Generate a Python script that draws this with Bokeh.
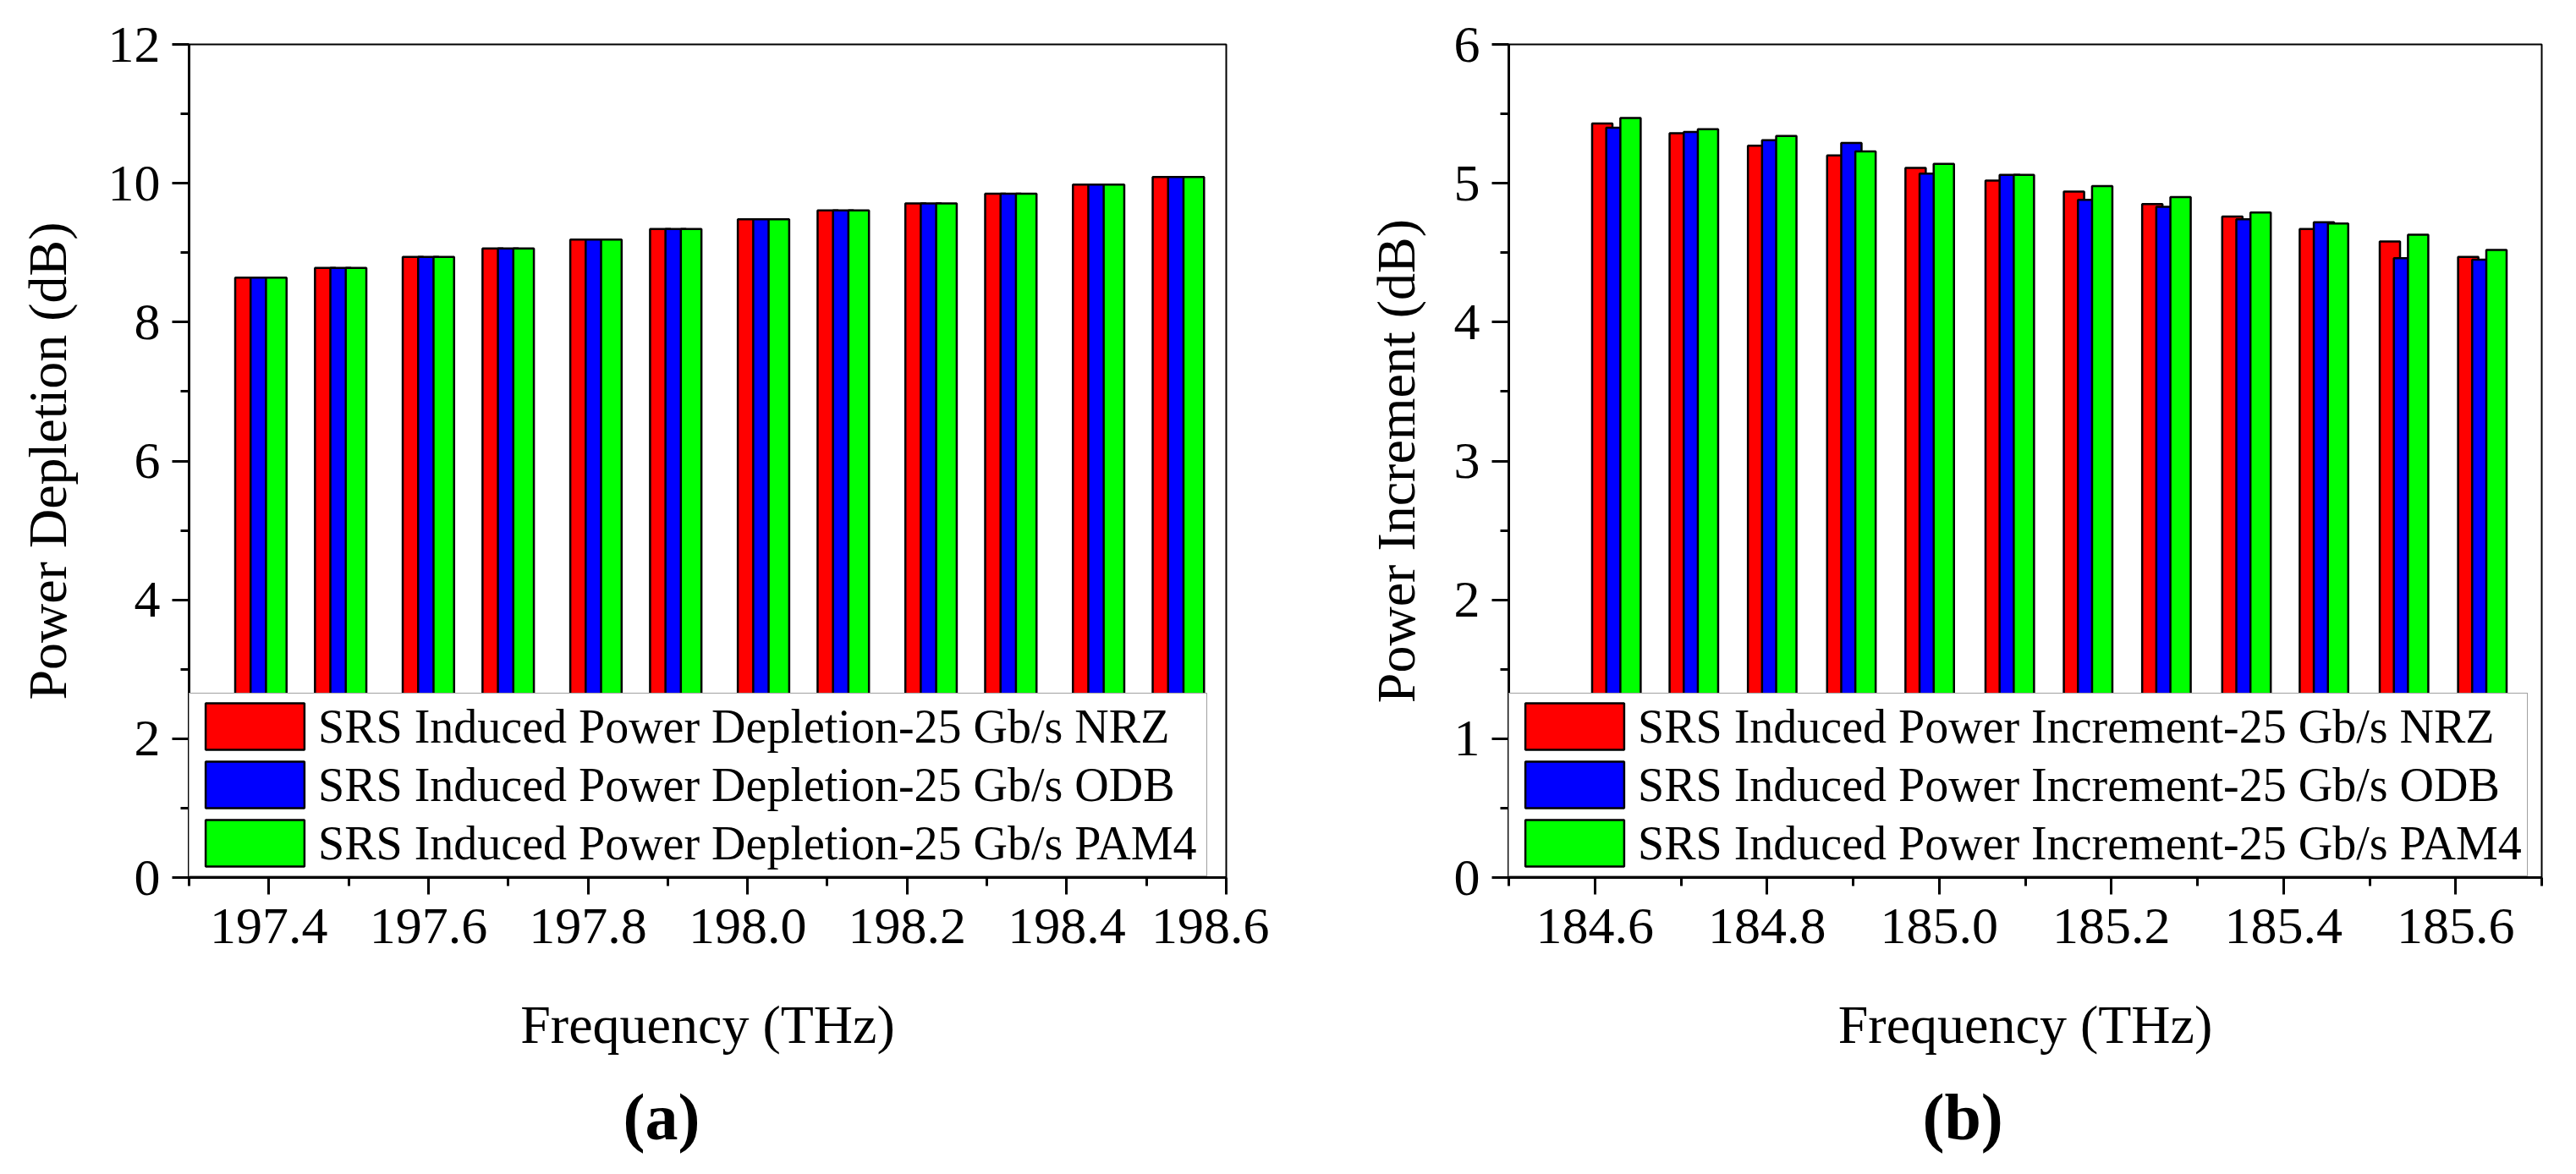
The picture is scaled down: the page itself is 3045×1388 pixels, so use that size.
from bokeh.plotting import figure
from bokeh.layouts import row, column
from bokeh.models import Range1d, FixedTicker, PrintfTickFormatter, ColumnDataSource, Title
from bokeh.transform import dodge
from bokeh.embed import file_html
from bokeh.resources import INLINE

FONT = "Liberation Serif"

# (a) SRS induced power depletion (dB) per channel frequency (THz)
freq_a = [197.39, 197.49, 197.60, 197.70, 197.81, 197.91, 198.02, 198.12, 198.23, 198.33, 198.44, 198.54]
nrz_a = [8.64, 8.78, 8.94, 9.06, 9.19, 9.34, 9.48, 9.61, 9.71, 9.85, 9.98, 10.09]
odb_a = [8.64, 8.78, 8.94, 9.06, 9.19, 9.34, 9.48, 9.61, 9.71, 9.85, 9.98, 10.09]
pam4_a = [8.64, 8.78, 8.94, 9.06, 9.19, 9.34, 9.48, 9.61, 9.71, 9.85, 9.98, 10.09]
labels_a = ["SRS Induced Power Depletion-25 Gb/s NRZ",
            "SRS Induced Power Depletion-25 Gb/s ODB",
            "SRS Induced Power Depletion-25 Gb/s PAM4"]
xticks_a = [197.4, 197.6, 197.8, 198.0, 198.2, 198.4, 198.6]
xminor_a = [197.3, 197.5, 197.7, 197.9, 198.1, 198.3, 198.5]
yticks_a = [0, 2, 4, 6, 8, 10, 12]
yminor_a = [1, 3, 5, 7, 9, 11]

# (b) SRS induced power increment (dB)
freq_b = [184.625, 184.715, 184.806, 184.898, 184.989, 185.082, 185.173, 185.264, 185.357, 185.447, 185.540, 185.631]
nrz_b = [5.43, 5.36, 5.27, 5.20, 5.11, 5.02, 4.94, 4.85, 4.76, 4.67, 4.58, 4.47]
odb_b = [5.40, 5.37, 5.31, 5.29, 5.07, 5.06, 4.88, 4.83, 4.74, 4.72, 4.46, 4.45]
pam4_b = [5.47, 5.39, 5.34, 5.23, 5.14, 5.06, 4.98, 4.90, 4.79, 4.71, 4.63, 4.52]
labels_b = ["SRS Induced Power Increment-25 Gb/s NRZ",
            "SRS Induced Power Increment-25 Gb/s ODB",
            "SRS Induced Power Increment-25 Gb/s PAM4"]
xticks_b = [184.6, 184.8, 185.0, 185.2, 185.4, 185.6]
xminor_b = [184.5, 184.7, 184.9, 185.1, 185.3, 185.5, 185.7]
yticks_b = [0, 1, 2, 3, 4, 5, 6]
yminor_b = [0.5, 1.5, 2.5, 3.5, 4.5, 5.5]

colors = ["#ff0000", "#0000ff", "#00ff00"]

MAIN_H = 1256
CAP_H = 114


def make_panel(freq, series, labels, xr, yr, xt, xm, yt, ym, ylabel,
               width, bl, br, bt, frame_h, bar_w, shift, ystand, lab_w):
    p = figure(width=width, height=MAIN_H, x_range=Range1d(*xr), y_range=Range1d(*yr),
               output_backend="svg", toolbar_location=None,
               min_border_left=bl, min_border_right=br, min_border_top=bt,
               min_border_bottom=MAIN_H - bt - frame_h)

    src = ColumnDataSource(dict(freq=freq, s0=series[0], s1=series[1], s2=series[2]))

    # bars overlap a little, drawn red -> blue -> green
    for i in range(3):
        p.vbar(x=dodge("freq", (i - 1) * shift), top="s%d" % i, bottom=0, width=bar_w, source=src,
               fill_color=colors[i], line_color="black", line_width=2.5, legend_label=labels[i])

    p.xaxis.ticker = FixedTicker(ticks=xt, minor_ticks=xm)
    p.xaxis.formatter = PrintfTickFormatter(format="%.1f")
    p.yaxis.ticker = FixedTicker(ticks=yt, minor_ticks=ym)

    p.xaxis.axis_label = "Frequency (THz)"
    p.yaxis.axis_label = ylabel
    for ax in p.axis:
        ax.axis_line_width = 3
        ax.axis_line_color = "black"
        ax.major_tick_line_width = 3
        ax.minor_tick_line_width = 3
        ax.major_tick_line_color = "black"
        ax.minor_tick_line_color = "black"
        ax.major_tick_in = 0
        ax.major_tick_out = 20
        ax.minor_tick_in = 0
        ax.minor_tick_out = 10
        ax.major_label_text_font = FONT
        ax.major_label_text_font_size = "62px"
        ax.major_label_text_color = "black"
        ax.axis_label_text_font = FONT
        ax.axis_label_text_font_size = "64px"
        ax.axis_label_text_font_style = "normal"
        ax.axis_label_text_color = "black"
    p.xaxis.major_label_standoff = 17
    p.xaxis.axis_label_standoff = 58
    p.yaxis.major_label_standoff = 14
    p.yaxis.axis_label_standoff = ystand

    p.xgrid.visible = False
    p.ygrid.visible = False
    p.outline_line_color = "black"
    p.outline_line_width = 2

    # legend sits on the bottom-left corner of the frame
    lg = p.legend[0]
    lg.location = (0, 1)
    lg.margin = 0
    lg.padding = 4
    lg.spacing = 0
    lg.glyph_width = 146
    lg.glyph_height = 69
    lg.label_standoff = 2
    lg.label_width = lab_w
    lg.label_text_font = FONT
    lg.label_text_font_size = "56px"
    lg.label_text_color = "black"
    lg.border_line_color = "#444444"
    lg.border_line_width = 1.5
    lg.background_fill_alpha = 1.0
    return p


def make_caption(width, caption, x0):
    # empty strip under each panel, only carrying the "(a)" / "(b)" caption
    c = figure(width=width, height=CAP_H, x_range=Range1d(0, 1), y_range=Range1d(0, 1),
               output_backend="svg", toolbar_location=None, x_axis_type=None, y_axis_type=None,
               min_border_left=0, min_border_right=0, min_border_top=0, min_border_bottom=0)
    c.xgrid.visible = False
    c.ygrid.visible = False
    c.outline_line_color = None
    c.add_layout(Title(text=caption, align="left", offset=x0, standoff=36, vertical_align="bottom",
                       text_font=FONT, text_font_size="78px", text_font_style="bold",
                       text_color="black"), "below")
    return c


pa = make_panel(freq_a, [nrz_a, odb_a, pam4_a], labels_a, (197.3, 198.6), (0, 12),
                xticks_a, xminor_a, yticks_a, yminor_a, "Power Depletion (dB)",
                1500, 223, 51, 49, 989, 0.0258, 0.0193, 33, 1046)
pb = make_panel(freq_b, [nrz_b, odb_b, pam4_b], labels_b, (184.5, 185.7), (0, 6),
                xticks_b, xminor_b, yticks_b, yminor_b, "Power Increment (dB)",
                1529, 283, 25, 52, 985, 0.0236, 0.0164, 30, 1047)

ca = make_caption(1500, "(a)", 736)
cb = make_caption(1529, "(b)", 772)

layout = column(row(pa, pb), row(ca, cb))
open("out.html", "w").write(file_html(layout, INLINE, "SRS power"))
